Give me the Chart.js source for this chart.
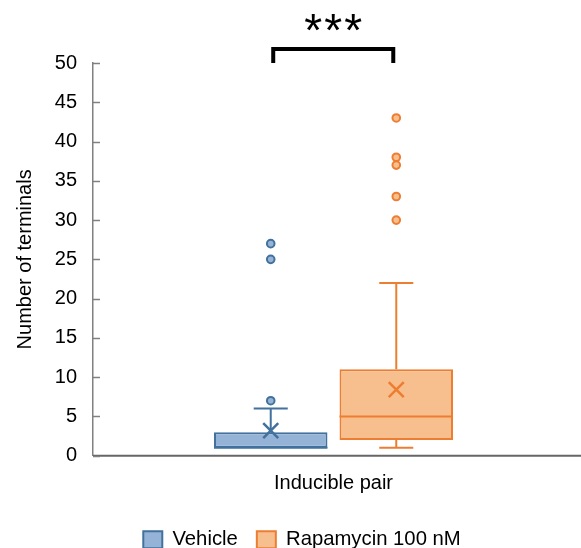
<!DOCTYPE html>
<html>
<head>
<meta charset="utf-8">
<script src="https://cdn.jsdelivr.net/npm/chart.js@4.4.1/dist/chart.umd.min.js"></script>
<style>
html,body{margin:0;padding:0;background:#fff;}
#wrap{width:581px;height:548px;}
</style>
</head>
<body>
<div id="wrap"><canvas id="c" width="581" height="548"></canvas></div>
<script>
// ---- data ----
const categories = ['Inducible pair'];
const seriesNames = ['Vehicle', 'Rapamycin 100 nM'];
// [min, q1, median, q3, max] for each series
const vehicleBox = [1, 1, 1, 3, 6];
const rapamycinBox = [1, 2, 5, 11, 22];
const vehicleMean = 3.2;
const rapamycinMean = 8.4;
const vehicleOutliers = [7, 25, 27];
const rapamycinOutliers = [30, 33, 37, 38, 43];
const yTicks = [0, 5, 10, 15, 20, 25, 30, 35, 40, 45, 50];
const significance = '***';

const fills = ['#95b3d7', '#f8bf8e'];
const strokes = ['#41719c', '#ed7d31'];
const boxes = [vehicleBox, rapamycinBox];
const means = [vehicleMean, rapamycinMean];
const outliers = [vehicleOutliers, rapamycinOutliers];
const FONT = '"Liberation Sans", Arial, sans-serif';

const boxPlugin = {
  id: 'boxExtras',
  beforeDatasetsDraw(chart) {
    const ctx = chart.ctx;
    const area = chart.chartArea;
    ctx.save();
    ctx.strokeStyle = '#666666';
    ctx.lineWidth = 2;
    ctx.beginPath();
    ctx.moveTo(area.left, area.bottom);
    ctx.lineTo(chart.width, area.bottom);
    ctx.stroke();
    ctx.restore();
  },
  afterDatasetsDraw(chart) {
    const ctx = chart.ctx;
    const y = chart.scales.y;
    const area = chart.chartArea;
    ctx.save();
    ctx.strokeStyle = '#808080';
    ctx.lineWidth = 1.5;
    yTicks.forEach(v => {
      const py = Math.round(y.getPixelForValue(v)) + 0.5;
      ctx.beginPath();
      ctx.moveTo(area.left, py);
      ctx.lineTo(area.left + 7, py);
      ctx.stroke();
    });
    ctx.restore();

    const centers = [];
    boxes.forEach((b, i) => {
      const el = chart.getDatasetMeta(i).data[0];
      const cx = el.x;
      centers.push(cx);
      const w = el.width;
      const cap = w * 0.3;
      ctx.save();
      ctx.strokeStyle = strokes[i];
      ctx.lineWidth = 2;
      const pMin = y.getPixelForValue(b[0]);
      const pQ1 = y.getPixelForValue(b[1]);
      const pMed = y.getPixelForValue(b[2]);
      const pQ3 = y.getPixelForValue(b[3]);
      const pMax = y.getPixelForValue(b[4]);
      ctx.beginPath();
      ctx.moveTo(cx, pQ3); ctx.lineTo(cx, pMax);
      ctx.moveTo(cx - cap / 2, pMax); ctx.lineTo(cx + cap / 2, pMax);
      if (b[0] < b[1]) {
        ctx.moveTo(cx, pQ1); ctx.lineTo(cx, pMin);
        ctx.moveTo(cx - cap / 2, pMin); ctx.lineTo(cx + cap / 2, pMin);
      }
      ctx.moveTo(el.x - w / 2, pMed); ctx.lineTo(el.x + w / 2, pMed);
      ctx.stroke();
      const pm = y.getPixelForValue(means[i]);
      const s = 7.5;
      ctx.lineWidth = 2.5;
      ctx.beginPath();
      ctx.moveTo(cx - s, pm - s); ctx.lineTo(cx + s, pm + s);
      ctx.moveTo(cx + s, pm - s); ctx.lineTo(cx - s, pm + s);
      ctx.stroke();
      ctx.lineWidth = 2;
      ctx.fillStyle = fills[i];
      outliers[i].forEach(v => {
        const py = y.getPixelForValue(v);
        ctx.beginPath();
        ctx.arc(cx, py, 3.8, 0, Math.PI * 2);
        ctx.fill();
        ctx.stroke();
      });
      ctx.restore();
    });

    const x1 = centers[0] + 2.5, x2 = centers[1] - 3;
    const yBottom = y.getPixelForValue(50);
    const yTop = yBottom - 14;
    ctx.save();
    ctx.strokeStyle = '#000';
    ctx.lineWidth = 4;
    ctx.beginPath();
    ctx.moveTo(x1, yBottom);
    ctx.lineTo(x1, yTop);
    ctx.lineTo(x2, yTop);
    ctx.lineTo(x2, yBottom);
    ctx.stroke();
    ctx.fillStyle = '#000';
    ctx.font = '46px ' + FONT;
    ctx.textAlign = 'center';
    ctx.textBaseline = 'middle';
    const mid = (x1 + x2) / 2;
    const step = 20;
    for (let k = 0; k < significance.length; k++) {
      ctx.fillText(significance[k], mid + (k - 1) * step, yTop - 16);
    }
    ctx.restore();
  }
};

new Chart(document.getElementById('c'), {
  type: 'bar',
  data: {
    labels: categories,
    datasets: seriesNames.map((name, i) => ({
      label: name,
      data: [[boxes[i][1], boxes[i][3]]],
      backgroundColor: fills[i],
      borderColor: strokes[i],
      borderWidth: 2,
      borderSkipped: false,
      categoryPercentage: 0.522,
      barPercentage: 0.904
    }))
  },
  options: {
    responsive: false,
    animation: false,
    events: [],
    layout: { padding: { top: 63, right: 7, left: 30, bottom: -12 } },
    plugins: {
      tooltip: { enabled: false },
      legend: {
        position: 'bottom',
        labels: {
          font: { family: FONT, size: 20.3 },
          color: '#000',
          boxWidth: 19,
          boxHeight: 17,
          padding: 19,
          generateLabels(chart) {
            return seriesNames.map((n, i) => ({
              text: n, fillStyle: fills[i], strokeStyle: strokes[i],
              lineWidth: 2, datasetIndex: i, hidden: false
            }));
          }
        }
      }
    },
    scales: {
      x: {
        afterFit(scale) { scale.height = 55; },
        grid: { display: false, drawTicks: false },
        border: { display: false },
        ticks: {
          color: '#000',
          padding: 16,
          font: { family: FONT, size: 20 }
        }
      },
      y: {
        min: 0, max: 50,
        afterBuildTicks(scale) { scale.ticks = yTicks.map(v => ({ value: v })); },
        afterFit(scale) { scale.width = 63; },
        grid: { display: false, drawTicks: false },
        border: { display: true, color: '#808080', width: 1.5 },
        ticks: {
          color: '#000',
          padding: 16,
          font: { family: FONT, size: 20 }
        },
        title: {
          display: true,
          text: 'Number of terminals',
          color: '#000',
          padding: { top: -17, bottom: 0 },
          font: { family: FONT, size: 20 }
        }
      }
    }
  },
  plugins: [boxPlugin]
});
</script>
</body>
</html>
